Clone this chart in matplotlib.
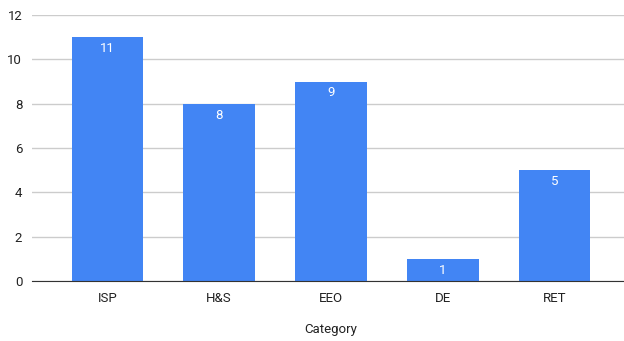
import matplotlib.pyplot as plt

categories = ["ISP", "H&S", "EEO", "DE", "RET"]
counts = [11, 8, 9, 1, 5]

plt.rcParams["font.family"] = ["Roboto", "DejaVu Sans"]

fig = plt.figure(figsize=(6.24, 3.41), dpi=100)
# правая граница области графика выходит за край картинки, как в оригинале
ax = fig.add_axes([32 / 624, 60 / 341, 598 / 624, 266 / 341])

x = range(len(categories))
bars = ax.bar(x, counts, width=0.64, color="#4285F4", zorder=3)

for rect, v in zip(bars, counts):
    ax.text(rect.get_x() + rect.get_width() / 2, v - 0.22, str(v),
            ha="center", va="top", color="white", fontsize=9.5, zorder=4)

ax.set_xlim(-0.674, 4.674)
ax.set_ylim(0, 12)
ax.set_yticks(range(0, 13, 2))
ax.set_xticks(list(x))
ax.set_xticklabels(categories)
ax.tick_params(length=0, labelsize=9.5, colors="#222222")
ax.tick_params(axis="y", pad=7)
ax.tick_params(axis="x", pad=8)

ax.grid(axis="y", color="#cccccc", linewidth=1, zorder=0)
for side in ["top", "right", "left"]:
    ax.spines[side].set_visible(False)
ax.spines["bottom"].set_color("#333333")
ax.spines["bottom"].set_zorder(5)

ax.set_xlabel("Category", fontsize=9.5, color="#222222", labelpad=13)

fig.savefig("out.png", dpi=100)
